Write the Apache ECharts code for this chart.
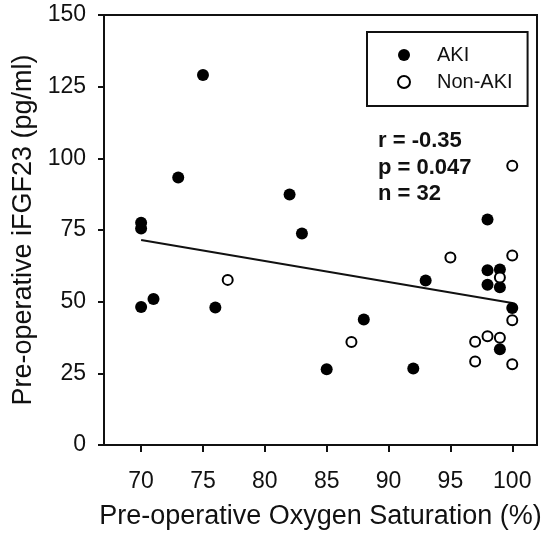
<!DOCTYPE html>
<html>
<head>
<meta charset="utf-8">
<script src="https://cdn.jsdelivr.net/npm/echarts@6/dist/echarts.min.js"></script>
<style>html,body{margin:0;padding:0;background:#fff}#c{width:550px;height:535px}</style>
</head>
<body>
<div id="c"></div>
<script>
// Data
const akiX = [75, 73, 82, 70, 70, 83, 70, 71, 76, 98, 99, 98, 99, 93, 100, 88, 99, 85, 92, 98];
const akiY = [129.1, 93.3, 87.4, 77.5, 75.5, 73.8, 48.1, 50.9, 48.0, 61.0, 61.2, 55.9, 55.0, 57.4, 47.8, 43.8, 33.4, 26.4, 26.7, 78.7];
const nonX = [77, 95, 100, 99, 100, 87, 97, 98, 99, 97, 100, 100];
const nonY = [57.6, 65.4, 66.1, 58.4, 43.5, 35.9, 36.0, 37.9, 37.4, 29.1, 28.2, 97.4];
const fitX = [70, 100];
const fitY = [71.5, 49.5];
const xTicks = [70, 75, 80, 85, 90, 95, 100];
const yTicks = [0, 25, 50, 75, 100, 125, 150];
const statsLines = ['r = -0.35', 'p = 0.047', 'n = 32'];
const seriesNames = ['AKI', 'Non-AKI'];
const xTitle = 'Pre-operative Oxygen Saturation (%)';
const yTitle = 'Pre-operative iFGF23 (pg/ml)';

const zip = (a, b) => a.map((v, i) => [v, b[i]]);
const FONT = '"Liberation Sans", Arial, sans-serif';

const chart = echarts.init(document.getElementById('c'), null, {renderer: 'canvas'});
chart.setOption({
  animation: false,
  backgroundColor: '#fff',
  textStyle: {fontFamily: FONT},
  grid: {left: 104, top: 15, width: 433, height: 433, show: true, borderColor: '#111', borderWidth: 2, backgroundColor: 'transparent'},
  title: {
    text: statsLines.join('\n'),
    left: 373, top: 123,
    textStyle: {fontFamily: FONT, fontSize: 22, fontWeight: 'bold', color: '#111', lineHeight: 26.5}
  },
  legend: {
    orient: 'vertical',
    left: 367, top: 32,
    padding: [13, 15, 14, 30],
    itemGap: 7,
    itemWidth: 12, itemHeight: 12,
    borderColor: '#111', borderWidth: 2,
    data: seriesNames,
    textStyle: {fontFamily: FONT, fontSize: 20, color: '#111', lineHeight: 20, padding: [0, 0, 0, 22]}
  },
  xAxis: {
    type: 'value', min: 67, max: 102,
    name: xTitle, nameLocation: 'middle', nameGap: 58,
    nameTextStyle: {fontFamily: FONT, fontSize: 27, color: '#111'},
    axisLine: {show: true, onZero: false, lineStyle: {color: '#111', width: 2}},
    axisTick: {show: true, length: 7, lineStyle: {color: '#111', width: 2}, customValues: xTicks},
    axisLabel: {fontFamily: FONT, fontSize: 23, color: '#111', margin: 25, customValues: xTicks},
    splitLine: {show: false}
  },
  yAxis: {
    type: 'value', min: 0, max: 150, interval: 25,
    name: yTitle, nameLocation: 'middle', nameGap: 67,
    nameTextStyle: {fontFamily: FONT, fontSize: 27, color: '#111'},
    axisLine: {show: true, lineStyle: {color: '#111', width: 2}},
    axisTick: {show: true, length: 6, lineStyle: {color: '#111', width: 2}, customValues: yTicks},
    axisLabel: {fontFamily: FONT, fontSize: 23, color: '#111', margin: 18, customValues: yTicks},
    splitLine: {show: false}
  },
  series: [
    {
      name: 'fit', type: 'line', data: zip(fitX, fitY), symbol: 'none', silent: true, z: 1,
      lineStyle: {color: '#111', width: 2}
    },
    {
      name: seriesNames[0], type: 'scatter', data: zip(akiX, akiY), symbol: 'circle', symbolSize: 12, z: 3,
      itemStyle: {color: '#000', opacity: 1}
    },
    {
      name: seriesNames[1], type: 'scatter', data: zip(nonX, nonY), symbol: 'circle', symbolSize: 10, z: 4,
      itemStyle: {color: '#fff', borderColor: '#000', borderWidth: 2, opacity: 1}
    }
  ]
});
</script>
</body>
</html>
